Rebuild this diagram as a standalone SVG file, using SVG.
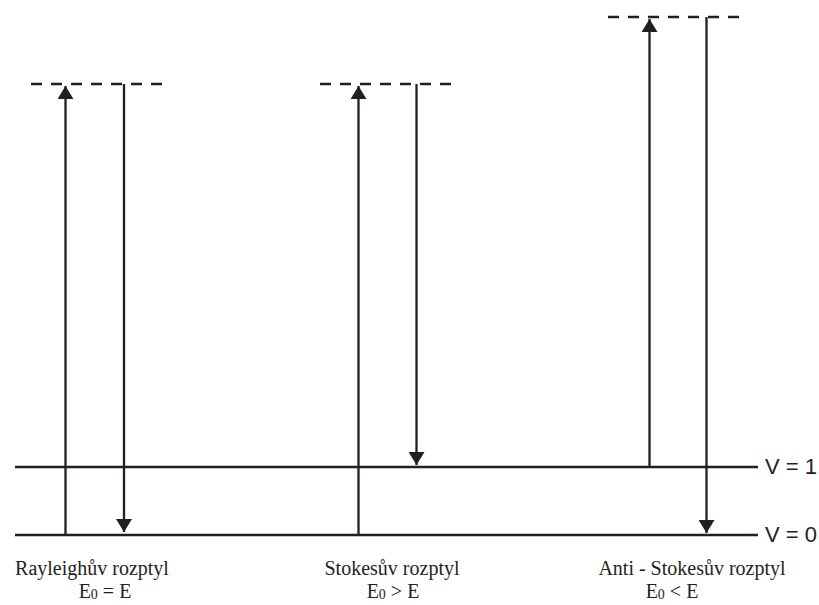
<svg xmlns="http://www.w3.org/2000/svg" width="819" height="605" viewBox="0 0 819 605">
<style>
.lvl{stroke:#231f20;stroke-width:2.6;fill:none}
.ar{stroke:#231f20;stroke-width:2.3;fill:none}
.virt{stroke:#231f20;stroke-width:2.5;fill:none;stroke-dasharray:11 9}
.lab{font-family:"Liberation Serif","Times New Roman","DejaVu Serif",serif;font-size:20px;fill:#231f20;text-anchor:middle}
.sub{font-size:14px}
.v{font-family:"Liberation Sans",Arial,sans-serif;font-size:22px;fill:#231f20}
</style>
<defs>
<marker id="ah" viewBox="0 0 13 16" refX="13" refY="8" markerWidth="13" markerHeight="16" markerUnits="userSpaceOnUse" orient="auto">
<path d="M0,0 L13,8 L0,16 Z" fill="#231f20"/>
</marker>
</defs>
<g id="levels">
<line class="lvl" x1="15" y1="467" x2="758" y2="467"/>
<line class="lvl" x1="15" y1="535" x2="758" y2="535"/>
<text class="v" x="765" y="474">V = 1</text>
<text class="v" x="765" y="542">V = 0</text>
</g>
<g id="rayleigh">
<line class="virt" x1="31" y1="84" x2="162" y2="84"/>
<text class="lab" x="92" y="575">Rayleighův rozptyl</text>
<text class="lab" x="105" y="598">E<tspan class="sub" dy="1">0</tspan><tspan dy="-1"> = E</tspan></text>
</g>
<g id="stokes">
<line class="virt" x1="320" y1="84" x2="451" y2="84"/>
<text class="lab" x="392" y="575">Stokesův rozptyl</text>
<text class="lab" x="393" y="598">E<tspan class="sub" dy="1">0</tspan><tspan dy="-1"> &gt; E</tspan></text>
</g>
<g id="antistokes">
<line class="virt" x1="608" y1="17" x2="739" y2="17"/>
<text class="lab" x="692" y="575">Anti - Stokesův rozptyl</text>
<text class="lab" x="672" y="598">E<tspan class="sub" dy="1">0</tspan><tspan dy="-1"> &lt; E</tspan></text>
</g>
<g id="connectors">
<line class="ar" x1="65.5" y1="535" x2="65.5" y2="86" marker-end="url(#ah)"/>
<line class="ar" x1="124" y1="84" x2="124" y2="532" marker-end="url(#ah)"/>
<line class="ar" x1="358.5" y1="535" x2="358.5" y2="86" marker-end="url(#ah)"/>
<line class="ar" x1="416.5" y1="84" x2="416.5" y2="465" marker-end="url(#ah)"/>
<line class="ar" x1="649.5" y1="467" x2="649.5" y2="19" marker-end="url(#ah)"/>
<line class="ar" x1="706.5" y1="17" x2="706.5" y2="533" marker-end="url(#ah)"/>
</g>
</svg>
